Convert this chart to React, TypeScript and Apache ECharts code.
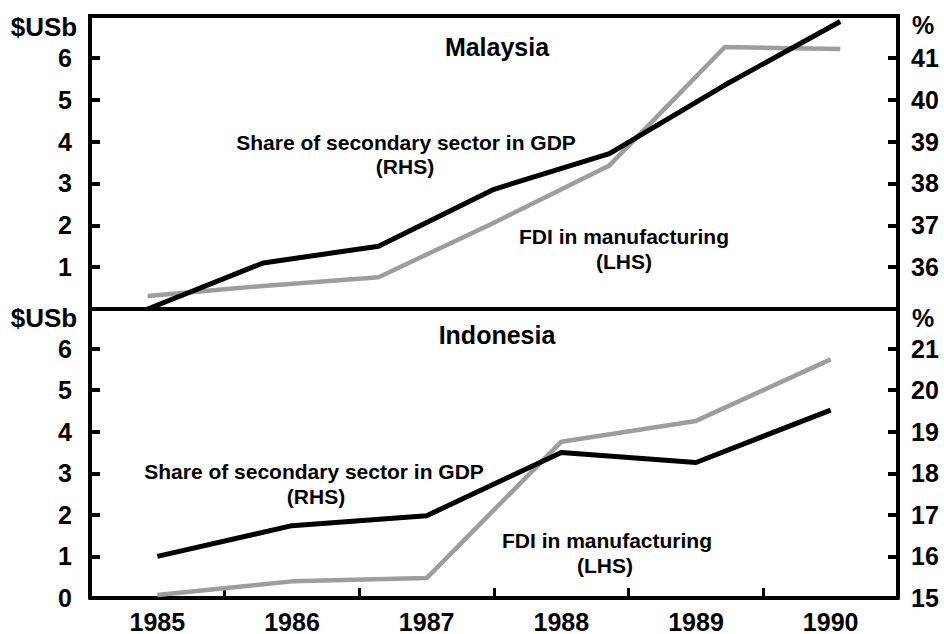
import React, { useEffect, useRef } from "react";
import * as echarts from "echarts";

const malaysiaPeriods = ["1984", "1985", "1986", "1987", "1988", "1989", "1990"];
const malaysiaFdi = [0.31, 0.55, 0.76, 2.06, 3.43, 6.26, 6.21];
const malaysiaShare = [35.0, 36.1, 36.5, 37.86, 38.71, 40.35, 41.87];

const indonesiaYears = ["1985", "1986", "1987", "1988", "1989", "1990"];
const indonesiaFdi = [0.07, 0.4, 0.48, 3.76, 4.26, 5.74];
const indonesiaShare = [16.0, 16.74, 16.98, 18.5, 18.26, 19.52];

const FONT = '"Liberation Sans", Arial, sans-serif';
const GREY = "#9d9d9d";

function yAxis(gridIndex: number, position: "left" | "right", min: number, max: number, hideMin: boolean) {
  return {
    type: "value",
    gridIndex,
    position,
    min,
    max,
    interval: 1,
    splitLine: { show: false },
    axisLine: { show: true, onZero: false, lineStyle: { color: "#000", width: 4 } },
    axisTick: { show: true, inside: true, length: 10, lineStyle: { color: "#000", width: 4 } },
    axisLabel: {
      show: true,
      showMinLabel: !hideMin,
      showMaxLabel: false,
      margin: position === "left" ? 18 : 13,
      color: "#000",
      fontSize: 25,
      fontWeight: "bold",
      fontFamily: FONT,
    },
  };
}

function txt(text: string, x: number, y: number, size: number, align = "center") {
  return {
    type: "text",
    x,
    y,
    z: 100,
    style: {
      text,
      fill: "#000",
      fontSize: size,
      fontWeight: "bold",
      fontFamily: FONT,
      align,
      verticalAlign: "middle",
    },
  };
}

export default function App() {
  const ref = useRef<HTMLDivElement>(null);
  useEffect(() => {
    if (!ref.current) return;
    const chart = echarts.init(ref.current, undefined, { renderer: "svg" });
    chart.setOption({
      animation: false,
      backgroundColor: "#fff",
      grid: [
        { left: 90, right: 46, top: 16, height: 293, show: true, borderColor: "#000", borderWidth: 4, backgroundColor: "transparent" },
        { left: 90, right: 46, top: 307, height: 293 },
      ],
      xAxis: [
        {
          type: "category",
          gridIndex: 0,
          data: malaysiaPeriods,
          boundaryGap: true,
          axisLine: { show: true, onZero: false, lineStyle: { color: "#000", width: 4 } },
          axisTick: { show: false },
          axisLabel: { show: false },
          splitLine: { show: false },
        },
        {
          type: "category",
          gridIndex: 1,
          data: indonesiaYears,
          boundaryGap: true,
          axisLine: { show: true, onZero: false, lineStyle: { color: "#000", width: 4 } },
          axisTick: { show: true, inside: true, length: 10, lineStyle: { color: "#000", width: 3 } },
          axisLabel: { show: true, margin: 11, color: "#000", fontSize: 25, fontWeight: "bold", fontFamily: FONT },
          splitLine: { show: false },
        },
      ],
      yAxis: [
        yAxis(0, "left", 0, 7, true),
        yAxis(0, "right", 35, 42, true),
        yAxis(1, "left", 0, 7, false),
        yAxis(1, "right", 15, 22, false),
      ],
      series: [
        { name: "Malaysia FDI in manufacturing", type: "line", xAxisIndex: 0, yAxisIndex: 0, data: malaysiaFdi, showSymbol: false, lineStyle: { color: GREY, width: 4.5 }, z: 2 },
        { name: "Malaysia share of secondary sector", type: "line", xAxisIndex: 0, yAxisIndex: 1, data: malaysiaShare, showSymbol: false, lineStyle: { color: "#000", width: 5 }, z: 3 },
        { name: "Indonesia FDI in manufacturing", type: "line", xAxisIndex: 1, yAxisIndex: 2, data: indonesiaFdi, showSymbol: false, lineStyle: { color: GREY, width: 4.5 }, z: 2 },
        { name: "Indonesia share of secondary sector", type: "line", xAxisIndex: 1, yAxisIndex: 3, data: indonesiaShare, showSymbol: false, lineStyle: { color: "#000", width: 5 }, z: 3 },
      ],
      graphic: [
        txt("$USb", 44, 27, 26),
        txt("$USb", 44, 318, 26),
        txt("%", 923, 25, 25),
        txt("%", 923, 318, 25),
        txt("Malaysia", 497, 47, 25),
        txt("Indonesia", 497, 335, 25),
        txt("Share of secondary sector in GDP", 406, 142, 21),
        txt("(RHS)", 405, 166, 21),
        txt("FDI in manufacturing", 624, 236, 21),
        txt("(LHS)", 624, 261, 21),
        txt("Share of secondary sector in GDP", 314, 471, 21),
        txt("(RHS)", 316, 496, 21),
        txt("FDI in manufacturing", 607, 540, 21),
        txt("(LHS)", 605, 565, 21),
      ],
    });
    return () => chart.dispose();
  }, []);
  return <div ref={ref} style={{ position: "fixed", left: 0, top: 0, width: 944, height: 634 }} />;
}
